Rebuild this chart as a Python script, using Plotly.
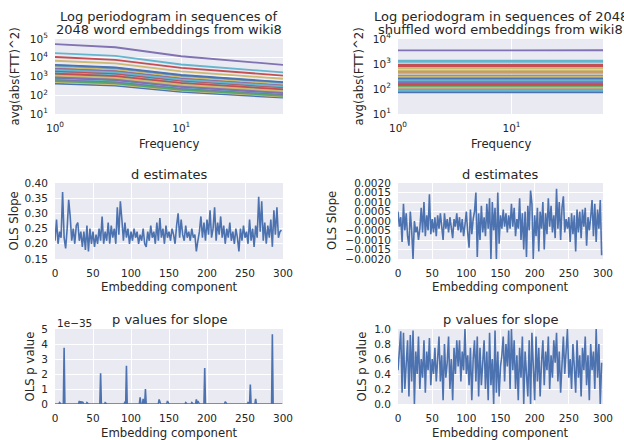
import math
import plotly.graph_objects as go

# ---------------- data ----------------
palette = ['#4C72B0', '#55A868', '#C44E52', '#8172B2', '#CCB974', '#64B5CD']

freq_anchor = [1, 3, 10, 64]
left_log_power = [
    [3.30, 3.17, 2.79, 2.43], [3.05, 2.93, 2.56, 2.22], [2.78, 2.66, 2.32, 2.00],
    [4.73, 4.56, 4.08, 3.62], [3.20, 3.07, 2.70, 2.35], [3.00, 2.88, 2.52, 2.18],
    [2.62, 2.51, 2.18, 1.87], [3.40, 3.27, 2.87, 2.51], [3.45, 3.32, 2.92, 2.56],
    [3.10, 2.97, 2.60, 2.26], [2.95, 2.83, 2.47, 2.14], [4.25, 4.10, 3.64, 3.22],
    [3.55, 3.41, 3.01, 2.64], [2.90, 2.78, 2.43, 2.10], [4.04, 3.89, 3.46, 3.05],
    [3.25, 3.12, 2.74, 2.39], [3.84, 3.70, 3.27, 2.88], [2.85, 2.73, 2.38, 2.06],
    [3.15, 3.02, 2.65, 2.31], [3.35, 3.22, 2.83, 2.47], [3.00, 2.88, 2.52, 2.18],
    [2.80, 2.68, 2.34, 2.02], [3.50, 3.37, 2.97, 2.60], [3.20, 3.07, 2.70, 2.35],
    [2.95, 2.83, 2.47, 2.14], [3.10, 2.97, 2.60, 2.26], [3.30, 3.17, 2.79, 2.43],
    [3.40, 3.27, 2.87, 2.51], [2.70, 2.58, 2.25, 1.93], [3.60, 3.46, 3.06, 2.68],
    [3.62, 3.48, 3.08, 2.70], [2.75, 2.63, 2.29, 1.97], [3.15, 3.02, 2.65, 2.31],
    [2.95, 2.83, 2.47, 2.14], [3.05, 2.93, 2.56, 2.22], [3.35, 3.22, 2.83, 2.47],
]
right_log_power = [
    [2.47, 2.46, 2.47, 2.47], [2.22, 2.22, 2.21, 2.22], [2.37, 2.36, 2.37, 2.37],
    [3.545, 3.535, 3.545, 3.55], [2.23, 2.23, 2.22, 2.23], [2.07, 2.07, 2.06, 2.07],
    [2.53, 2.53, 2.52, 2.53], [1.99, 1.98, 1.99, 1.99], [2.97, 2.96, 2.97, 2.97],
    [2.30, 2.30, 2.29, 2.30], [2.84, 2.83, 2.84, 2.84], [3.13, 3.12, 3.13, 3.13],
    [1.87, 1.87, 1.86, 1.87], [2.17, 2.17, 2.16, 2.17], [2.67, 2.66, 2.67, 2.67],
    [2.12, 2.12, 2.11, 2.12], [2.74, 2.73, 2.74, 2.74], [3.09, 3.09, 3.08, 3.09],
    [2.30, 2.29, 2.30, 2.30], [2.42, 2.42, 2.41, 2.42], [2.92, 2.91, 2.92, 2.92],
    [2.02, 2.02, 2.01, 2.02], [2.63, 2.62, 2.63, 2.63], [2.27, 2.27, 2.26, 2.27],
    [2.15, 2.15, 2.14, 2.15], [2.33, 2.33, 2.32, 2.33], [2.25, 2.24, 2.25, 2.25],
    [2.45, 2.45, 2.44, 2.45], [2.50, 2.49, 2.50, 2.50], [1.95, 1.95, 1.94, 1.95],
    [2.40, 2.40, 2.39, 2.40], [2.10, 2.09, 2.10, 2.10], [2.18, 2.18, 2.17, 2.18],
    [2.28, 2.28, 2.27, 2.28], [2.05, 2.05, 2.04, 2.05], [2.35, 2.35, 2.34, 2.35],
]

component_x = list(range(0, 300, 2))
d_left = [
    0.21, 0.28, 0.20, 0.24, 0.22, 0.37, 0.22, 0.185, 0.25, 0.345,
    0.29, 0.21, 0.25, 0.20, 0.26, 0.27, 0.21, 0.24, 0.19, 0.24,
    0.18, 0.26, 0.175, 0.25, 0.20, 0.24, 0.19, 0.23, 0.20, 0.25,
    0.21, 0.29, 0.20, 0.24, 0.21, 0.27, 0.20, 0.26, 0.22, 0.25,
    0.20, 0.32, 0.23, 0.34, 0.28, 0.21, 0.27, 0.22, 0.25, 0.20,
    0.24, 0.21, 0.25, 0.22, 0.24, 0.20, 0.23, 0.21, 0.25, 0.20,
    0.19, 0.24, 0.21, 0.26, 0.22, 0.24, 0.20, 0.27, 0.21, 0.285,
    0.22, 0.25, 0.20, 0.26, 0.22, 0.24, 0.21, 0.25, 0.23, 0.20,
    0.26, 0.30, 0.22, 0.28, 0.23, 0.21, 0.26, 0.22, 0.24, 0.21,
    0.25, 0.22, 0.23, 0.175, 0.21, 0.24, 0.29, 0.22, 0.27, 0.21,
    0.28, 0.23, 0.31, 0.22, 0.25, 0.32, 0.21, 0.27, 0.23, 0.29,
    0.22, 0.26, 0.20, 0.25, 0.22, 0.27, 0.21, 0.24, 0.20, 0.25,
    0.22, 0.175, 0.25, 0.21, 0.26, 0.22, 0.24, 0.20, 0.28, 0.21,
    0.25, 0.19, 0.26, 0.22, 0.355, 0.24, 0.34, 0.21, 0.27, 0.20,
    0.26, 0.22, 0.28, 0.19, 0.31, 0.23, 0.32, 0.22, 0.24, 0.245,
]
d_right = [
    0.0005, -0.0003, 0.0002, -0.0011, 0.0009, -0.0005, 0.0004, -0.0008, -0.0013, 0.0005,
    -0.0005, -0.0020, 0.0000, -0.0006, -0.0003, -0.0010, -0.0004, 0.0007, -0.0006, 0.0010,
    -0.0008, 0.0003, -0.0005, 0.0014, -0.0007, 0.0001, -0.0006, 0.0002, -0.0008, 0.0003,
    -0.0004, 0.0004, -0.0003, -0.0010, 0.0004, -0.0004, 0.0001, -0.0006, 0.0002, -0.0003,
    -0.0009, 0.0001, -0.0003, 0.0004, -0.0005, 0.0002, -0.0006, 0.0001, -0.0008, -0.0002,
    0.0005, -0.0006, -0.0014, 0.0006, -0.0007, 0.0001, 0.0005, 0.0015, -0.0019, 0.0004,
    -0.0010, 0.0008, -0.0006, 0.0002, -0.0008, 0.0009, -0.0004, 0.0012, -0.0020, 0.0010,
    -0.0005, 0.0007, -0.0020, 0.0015, -0.0012, 0.0003, -0.0004, 0.0006, -0.0003, 0.0004,
    -0.0006, 0.0003, -0.0004, 0.0009, -0.0003, 0.0007, -0.0008, 0.0001, -0.0004, 0.0012,
    -0.0010, 0.0004, -0.0015, 0.0005, -0.0019, 0.0008, -0.0005, 0.0016, 0.0009, -0.0020,
    0.0003, -0.0008, 0.0007, -0.0016, 0.0005, -0.0004, 0.0010, -0.0015, 0.0004, -0.0007,
    0.0012, -0.0003, 0.0008, -0.0006, 0.0003, -0.0009, 0.0017, -0.0004, 0.0010, -0.0010,
    0.0007, 0.0013, -0.0006, 0.0001, -0.0004, 0.0002, -0.0011, 0.0004, -0.0007, 0.0003,
    -0.0016, 0.0006, -0.0006, 0.0005, -0.0009, 0.0006, -0.0003, 0.0007, -0.0013, 0.0002,
    -0.0005, 0.0002, 0.0011, -0.0008, 0.0009, -0.0011, 0.0006, -0.0004, 0.0011, -0.0018,
]
p_right = [
    0.45, 0.75, 0.97, 0.15, 0.95, 0.20, 0.60, 0.85, 0.10, 0.92,
    0.30, 0.98, 0.00, 0.70, 0.40, 0.90, 0.20, 0.60, 0.35, 0.85,
    0.15, 0.70, 0.45, 0.88, 0.25, 0.60, 0.40, 0.75, 0.30, 0.55,
    0.90, 0.30, 0.65, 0.05, 0.80, 0.35, 0.55, 0.90, 0.20, 0.60,
    0.05, 0.75, 0.40, 0.85, 0.50, 0.85, 0.30, 0.70, 0.45, 1.00,
    0.40, 0.65, 0.25, 0.75, 0.05, 0.60, 0.85, 0.30, 0.90, 0.10,
    0.75, 0.25, 0.55, 0.85, 0.20, 0.70, 0.05, 0.95, 0.25, 0.60,
    0.00, 0.98, 0.15, 0.70, 0.10, 0.50, 0.65, 0.90, 0.30, 0.80,
    0.50, 0.98, 0.20, 1.00, 0.45, 0.85, 0.20, 0.65, 0.05, 0.75,
    0.35, 0.90, 0.00, 0.70, 0.40, 0.10, 0.85, 0.00, 0.95, 0.45,
    0.05, 0.90, 0.30, 0.75, 0.10, 0.55, 0.85, 0.25, 0.70, 0.45,
    0.90, 0.20, 0.65, 0.35, 0.85, 0.55, 0.95, 0.30, 0.70, 0.15,
    0.60, 0.90, 0.40, 0.75, 1.00, 0.35, 0.60, 0.20, 0.80, 0.50,
    0.15, 0.85, 0.35, 0.65, 0.10, 0.75, 0.45, 0.90, 0.25, 0.65,
    0.05, 0.80, 0.45, 0.70, 0.20, 1.00, 0.35, 0.80, 0.00, 0.55,
]
p_left_spike_pos = [6, 12, 26, 32, 34, 36, 42, 60, 66, 92, 94, 104, 112, 116, 119,
                    137, 148, 172, 180, 186, 188, 197, 208, 224, 254, 257, 264, 286]
p_left_spike_val = [0.1, 3.75, 0.05, 0.2, 0.18, 0.15, 0.1, 2.05, 0.08, 0.15, 2.55, 0.05,
                    0.45, 0.35, 1.0, 0.3, 0.2, 0.1, 0.1, 0.3, 0.2, 2.4, 0.05, 0.15, 0.1,
                    1.3, 0.35, 4.65]
p_left_x = list(range(300))
p_left = [0.0] * 300
for pos, val in zip(p_left_spike_pos, p_left_spike_val):
    p_left[pos] = val

# ---------------- figure ----------------
W, H = 624, 440
TXT = '#262626'
BG = '#EAEAF2'
FONT = 'DejaVu Sans'
LINE = palette[0]

def px(x):
    return x / W

def py(y):
    return 1 - y / H

cols = [(55, 283), (398, 603)]
rows = [(39, 114), (183, 259), (329, 404)]

fig = go.Figure()

def axname(i, kind):
    return kind + ('' if i == 1 else str(i))

def add_axes(i, col, row, xopts, yopts):
    x0, x1 = cols[col]
    y0, y1 = rows[row]
    base = dict(showgrid=True, gridcolor='white', gridwidth=1, zeroline=False,
                showline=False, ticks='outside', tickcolor='rgba(0,0,0,0)',
                tickfont=dict(family=FONT, size=10.5, color=TXT), fixedrange=True,
                automargin=False)
    xa = dict(base, domain=[px(x0), px(x1)], anchor=axname(i, 'y'), ticklen=4)
    xa.update(xopts)
    ya = dict(base, domain=[py(y1), py(y0)], anchor=axname(i, 'x'), ticklen=4)
    ya.update(yopts)
    fig.layout[axname(i, 'xaxis')] = xa
    fig.layout[axname(i, 'yaxis')] = ya

sup = lambda p: '10<sup>%d</sup>' % p

for i, table in [(1, left_log_power), (2, right_log_power)]:
    for k, row in enumerate(table):
        fig.add_trace(go.Scatter(x=freq_anchor, y=[10 ** v for v in row], mode='lines',
                                 line=dict(color=palette[k % 6], width=1.8),
                                 xaxis=axname(i, 'x'), yaxis=axname(i, 'y'),
                                 showlegend=False, hoverinfo='skip'))

add_axes(1, 0, 0,
         dict(type='log', range=[0, math.log10(64)], tickvals=[1, 10], ticktext=[sup(0), sup(1)]),
         dict(type='log', range=[1, 5], tickvals=[10, 100, 1e3, 1e4, 1e5],
              ticktext=[sup(p) for p in range(1, 6)]))
add_axes(2, 1, 0,
         dict(type='log', range=[0, math.log10(64)], tickvals=[1, 10], ticktext=[sup(0), sup(1)]),
         dict(type='log', range=[1, 4], tickvals=[10, 100, 1e3, 1e4],
              ticktext=[sup(p) for p in range(1, 5)]))

fig.add_trace(go.Scatter(x=component_x, y=d_left, mode='lines', line=dict(color=LINE, width=1.6),
                         xaxis='x3', yaxis='y3', showlegend=False))
fig.add_trace(go.Scatter(x=component_x, y=d_right, mode='lines', line=dict(color=LINE, width=1.6),
                         xaxis='x4', yaxis='y4', showlegend=False))
xcomp = dict(range=[0, 300], tickvals=list(range(0, 301, 50)))
add_axes(3, 0, 1, xcomp, dict(range=[0.15, 0.40], tickvals=[0.15, 0.20, 0.25, 0.30, 0.35, 0.40],
                               tickformat='.2f'))
add_axes(4, 1, 1, xcomp, dict(range=[-0.002, 0.002], dtick=0.0005, tick0=0, tickformat='.4f'))

fig.add_trace(go.Scatter(x=p_left_x, y=p_left, mode='lines', line=dict(color=LINE, width=1.6),
                         xaxis='x5', yaxis='y5', showlegend=False))
fig.add_trace(go.Scatter(x=component_x, y=p_right, mode='lines', line=dict(color=LINE, width=1.6),
                         xaxis='x6', yaxis='y6', showlegend=False))
add_axes(5, 0, 2, xcomp, dict(range=[0, 5], dtick=1, tickformat='d'))
add_axes(6, 1, 2, xcomp, dict(range=[0, 1], dtick=0.2, tickformat='.1f'))

ann = []

def text(x, y, s, size, angle=0, xanchor='center'):
    ann.append(dict(x=px(x), y=py(y), xref='paper', yref='paper', text=s, showarrow=False,
                    xanchor=xanchor, yanchor='middle', textangle=angle,
                    font=dict(family=FONT, size=size, color=TXT)))

cx = [(a + b) / 2 for a, b in cols]
cy = [(a + b) / 2 for a, b in rows]
TS, LS = 13, 11.7
text(cx[0], 16, 'Log periodogram in sequences of', TS)
text(cx[0], 29.5, '2048 word embeddings from wiki8', TS)
text(cx[1], 16, 'Log periodogram in sequences of 2048', TS)
text(cx[1], 29.5, 'shuffled word embeddings from wiki8', TS)
text(cx[0], 174, 'd estimates', TS)
text(cx[1], 174, 'd estimates', TS)
text(cx[0], 319.5, 'p values for slope', TS)
text(cx[1], 319.5, 'p values for slope', TS)
text(cx[0], 144, 'Frequency', LS)
text(cx[1], 144, 'Frequency', LS)
text(cx[0], 286.5, 'Embedding component', LS)
text(cx[1], 286.5, 'Embedding component', LS)
text(cx[0], 432.5, 'Embedding component', LS)
text(cx[1], 432.5, 'Embedding component', LS)
text(15, cy[0], 'avg(abs(FTT)^2)', LS, -90)
text(359, cy[0], 'avg(abs(FTT)^2)', LS, -90)
text(13.5, cy[1], 'OLS Slope', LS, -90)
text(332, cy[1], 'OLS Slope', LS, -90)
text(29, cy[2], 'OLS p value', LS, -90)
text(361, cy[2], 'OLS p value', LS, -90)
text(55, 322.5, '1e\u221235', 10.5, xanchor='left')

fig.update_layout(width=W, height=H, margin=dict(l=0, r=0, t=0, b=0, pad=0, autoexpand=False),
                  paper_bgcolor='white', plot_bgcolor=BG, annotations=ann,
                  font=dict(family=FONT, color=TXT), showlegend=False)

fig.write_html('out.html', config={'displayModeBar': False},
               post_script="document.body.style.margin='0';"
                           "document.documentElement.style.overflow='hidden';")
